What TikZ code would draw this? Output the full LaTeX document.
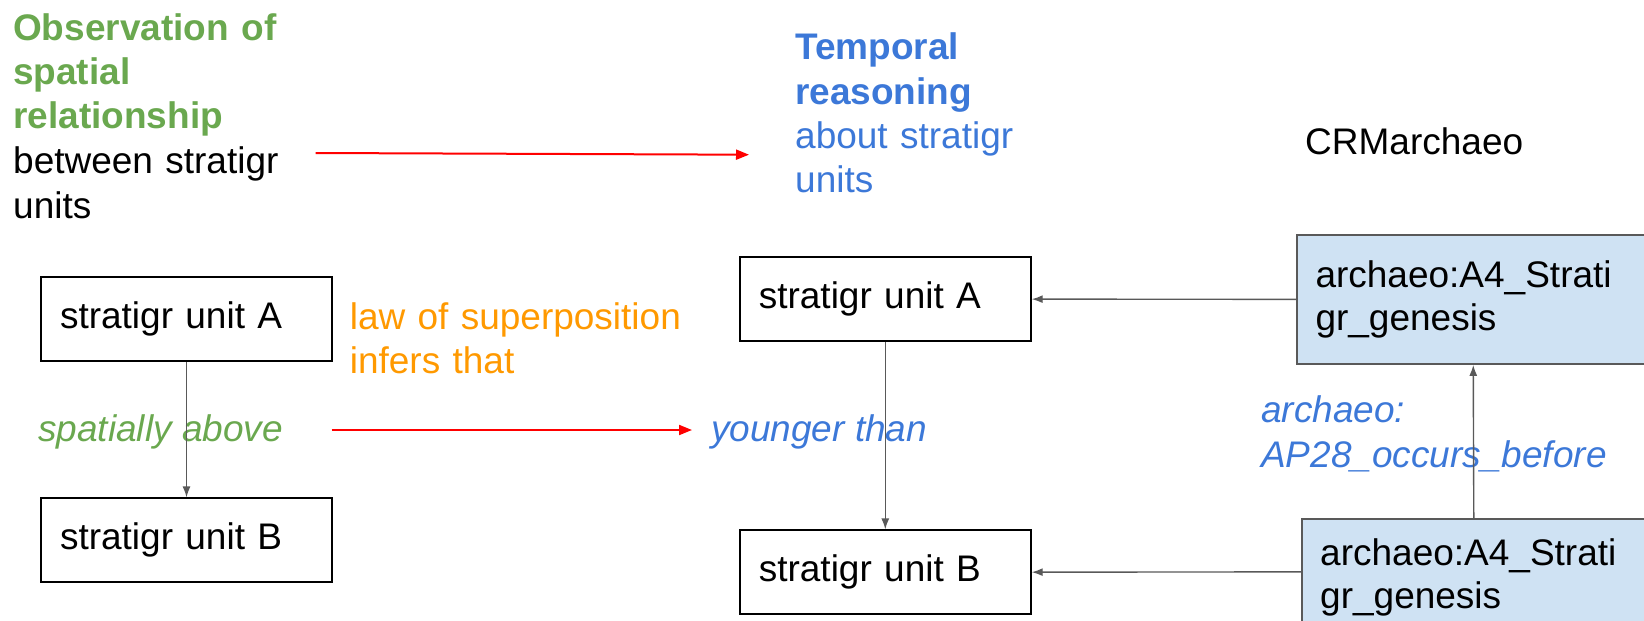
\documentclass[tikz,border=0pt]{standalone}
\usepackage{fontspec}
\setmainfont{Liberation Sans}
\usetikzlibrary{arrows.meta}

\definecolor{obsgreen}{HTML}{6AA84F}
\definecolor{tempblue}{HTML}{3C78D8}
\definecolor{laworange}{HTML}{FF9900}
\definecolor{linkgrey}{HTML}{595959}
\definecolor{classfill}{HTML}{CFE2F3}

\newcommand{\unitfont}{\fontsize{37}{44.5}\selectfont}

\tikzset{
	unitbox/.style={draw, line width=1.8pt, minimum height=84pt, text width=253pt, inner xsep=19pt, inner ysep=0pt, align=left},
	classbox/.style={draw=linkgrey, fill=classfill, line width=1.8pt, inner xsep=18.5pt, inner ysep=0pt, align=left, font=\fontsize{37}{43}\selectfont},
	txt/.style={inner sep=0pt, anchor=base west, align=left},
	link/.style={color=linkgrey, line width=1.4pt, -{Latex[length=11pt,width=8pt]}},
	infer/.style={color=red, line width=2pt, -{Triangle[length=13pt,width=10pt]}}
}

\begin{document}
\begin{tikzpicture}[x=1pt, y=-1pt, font=\unitfont]
	\useasboundingbox (0,0) rectangle (1644,621);
	\clip (0,0) rectangle (1644,621);

	% headings
	\node[txt, text width=300pt] (obs) at (13,40) {{\color{obsgreen}\bfseries Observation of\\spatial\\relationship}\\between stratigr\\units};
	\node[txt, text width=260pt, text=tempblue] (temp) at (795,59.5) {{\bfseries Temporal\\reasoning}\\about stratigr\\units};
	\node[txt] (crm) at (1305,154.5) {CRMarchaeo};

	% observed
	\node[unitbox] (lA) at (186.5,319.3) {stratigr unit A};
	\node[unitbox] (lB) at (186.5,540.3) {stratigr unit B};
	\node[txt, text width=360pt, text=laworange, font=\fontsize{37}{43.7}\selectfont] (law) at (349.6,329.3) {law of superposition\\infers that};
	\node[txt, text=obsgreen, font=\unitfont\itshape] (spat) at (38,441.5) {spatially above};

	% reasoned
	\node[unitbox] (mA) at (885.3,299) {stratigr unit A};
	\node[unitbox] (mB) at (885.3,572.3) {stratigr unit B};
	\node[txt, text=tempblue, font=\unitfont\itshape] (young) at (711,441.5) {younger than};

	% CRMarchaeo
	\node[classbox, text width=315pt, minimum height=129pt] (gA) at (1473,299.5) {archaeo:A4\_Strati\\gr\_genesis};
	\node[classbox, text width=307.6pt, minimum height=105pt] (gB) at (1474,571.7) {\rule{0pt}{39pt}archaeo:A4\_Strati\\gr\_genesis};
	\node[txt, text width=360pt, text=tempblue, font=\fontsize{37}{45.5}\selectfont\itshape] (occ) at (1261,422) {archaeo:\\AP28\_occurs\_before};

	\coordinate (r1a) at (315.7,153);
	\coordinate (r1b) at (749,154.7);
	\coordinate (r2a) at (331.7,430);
	\coordinate (r2b) at (692,430);

	\foreach \i / \j in {
	lA/lB,
	mA/mB,
	gA/mA,
	gB/mB,
	gB/gA}
	{
		\path[link] (\i) edge (\j);
	};
	\path[infer] (r1a) edge (r1b) (r2a) edge (r2b);
\end{tikzpicture}
\end{document}
